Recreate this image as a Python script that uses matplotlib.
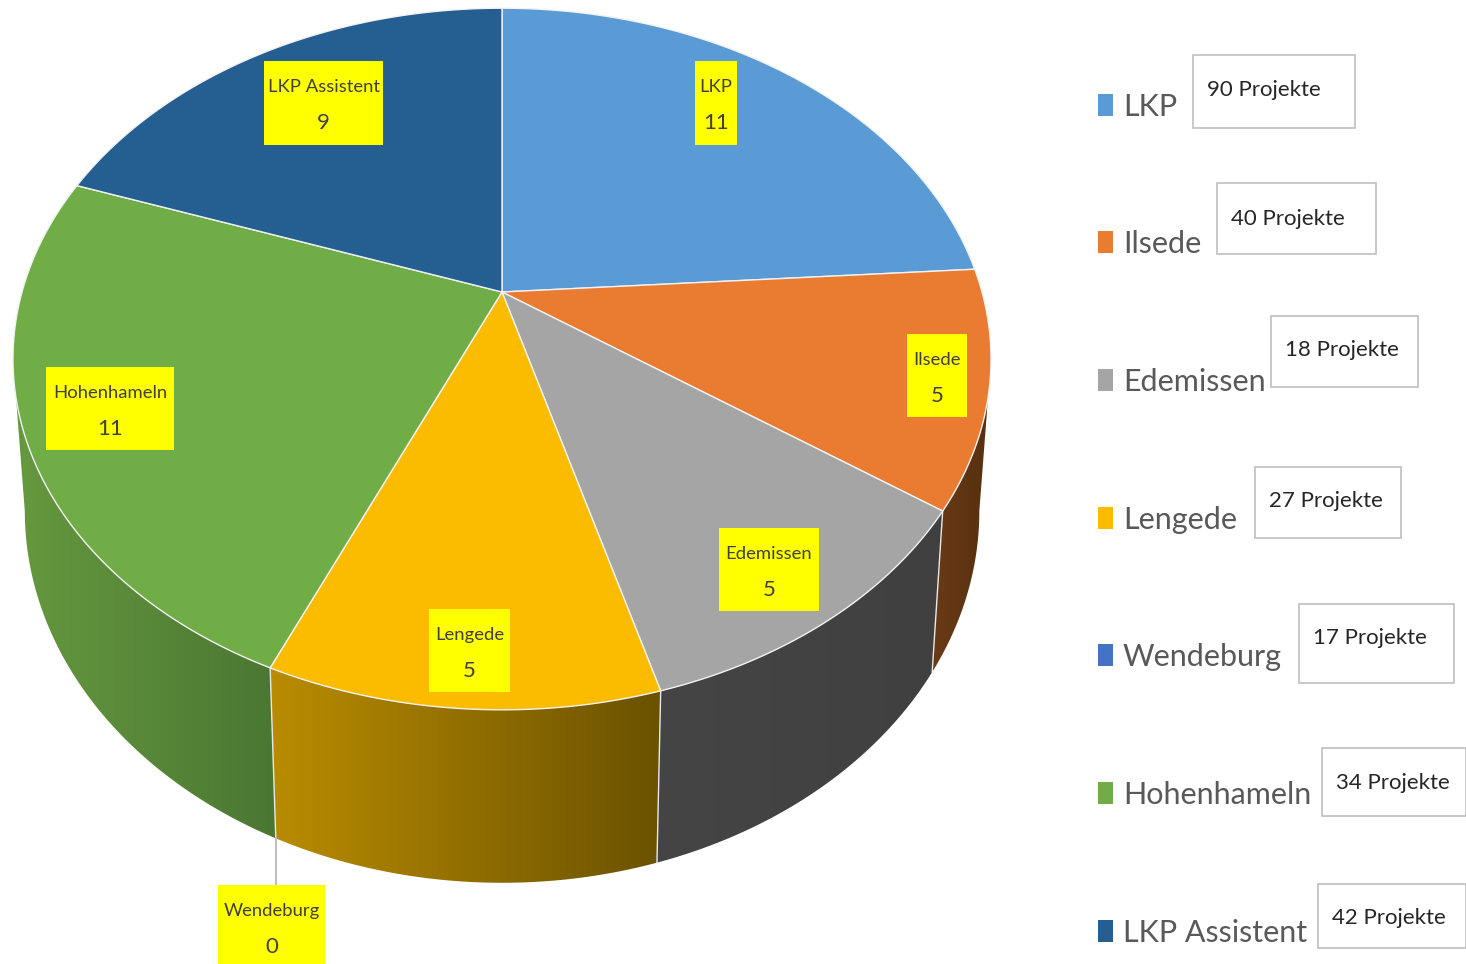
import numpy as np
import matplotlib
matplotlib.use('Agg')
import matplotlib.pyplot as plt
from matplotlib.patches import Polygon, Rectangle
from matplotlib.colors import LinearSegmentedColormap

plt.rcParams['font.family'] = ['Lato', 'Liberation Sans', 'DejaVu Sans']

# Daten
categories = ['LKP', 'Ilsede', 'Edemissen', 'Lengede', 'Wendeburg', 'Hohenhameln', 'LKP Assistent']
values = [11, 5, 5, 5, 0, 11, 9]
projects = [90, 40, 18, 27, 17, 34, 42]

colors = ['#5B9BD5', '#EA7C32', '#A5A5A5', '#FBBC00', '#4472C4', '#70AD47', '#255E91']
side_left = ['#5B9BD5', '#6A3A16', '#454545', '#B98C00', '#4472C4', '#66993F', '#255E91']
side_right = ['#5B9BD5', '#56300F', '#404040', '#6B5200', '#4472C4', '#4A7732', '#255E91']

# Position der Beschriftungen (Pixel)
label_boxes = [(695, 61, 737, 145), (907, 334, 967, 417), (719, 528, 819, 611), (429, 609, 510, 692),
               (218, 885, 325, 964), (46, 367, 174, 450), (264, 61, 383, 145)]
legend_y = [105, 242, 380, 518, 655, 793, 931]
note_boxes = [(1193, 55, 1355, 128), (1217, 183, 1376, 254), (1271, 316, 1418, 387), (1255, 467, 1401, 538),
              (1299, 604, 1454, 683), (1322, 748, 1466, 816), (1318, 884, 1466, 948)]
note_y = [90, 219, 350, 501, 638, 783, 918]

# Perspektive der Kreisscheibe
cx, cy = 502, 292
a, b, k = 480, 338, -0.191


def top_xy(theta):
    u, v = np.sin(theta), np.cos(theta)
    return cx + a*u/(1 - k*v), cy - b*v/(1 - k*v)


def bottom_xy(theta):
    x, y = top_xy(theta)
    return 505 + 0.976*(x - 505), 1.06*y + 130.4


fig = plt.figure(figsize=(14.66, 9.64), dpi=100)
ax = fig.add_axes([0, 0, 1, 1])

total = sum(values)
edges = np.concatenate([[0], np.cumsum(values)])/total*2*np.pi

# Seitenwand (nur sichtbarer Bereich, Verlauf als Bild)
for i in range(len(values)):
    if values[i] == 0:
        continue
    t0, t1 = edges[i], edges[i + 1]
    t0 = max(t0, np.radians(101))
    t1 = min(t1, np.radians(259))
    if t1 <= t0:
        continue
    t = np.linspace(t0, t1, 80)
    xt, yt = top_xy(t)
    xb, yb = bottom_xy(t)
    pts = np.column_stack([np.r_[xt, xb[::-1]], np.r_[yt, yb[::-1]]])
    poly = Polygon(pts, closed=True, facecolor='none', edgecolor='none')
    ax.add_patch(poly)
    cmap = LinearSegmentedColormap.from_list('side', [side_left[i], side_right[i]])
    im = ax.imshow(np.linspace(0, 1, 256).reshape(1, -1), cmap=cmap, aspect='auto',
                   extent=[pts[:, 0].min(), pts[:, 0].max(), pts[:, 1].max(), pts[:, 1].min()], zorder=1)
    im.set_clip_path(poly)
    # Kante zwischen den Segmenten
    if t1 == edges[i + 1]:
        xe, ye = top_xy(t1), bottom_xy(t1)
        ax.plot([xe[0], ye[0]], [xe[1], ye[1]], color='#E8E8E8', lw=1, zorder=2)

# Oberseite
for i in range(len(values)):
    if values[i] == 0:
        continue
    t = np.linspace(edges[i], edges[i + 1], 200)
    x, y = top_xy(t)
    ax.add_patch(Polygon(np.column_stack([np.r_[cx, x], np.r_[cy, y]]), closed=True,
                         facecolor=colors[i], edgecolor='#F2F2F2', lw=1, zorder=3))

# Linie zu Wendeburg
xw, yw = bottom_xy(edges[4])
ax.plot([xw, xw], [yw, label_boxes[4][1]], color='#BFBFBF', lw=1.5, zorder=2)

# Beschriftungen
for i in range(len(categories)):
    x0, y0, x1, y1 = label_boxes[i]
    ax.add_patch(Rectangle((x0, y0), x1 - x0, y1 - y0, facecolor='#FFFF00', edgecolor='none', zorder=4))
    xm = (x0 + x1)/2
    ax.text(xm, y0 + 26, categories[i], ha='center', va='center', fontsize=13.3, color='#404040', zorder=5)
    ax.text(xm, y0 + 62, str(values[i]), ha='center', va='center', fontsize=16, color='#404040', zorder=5)

# Legende
for i in range(len(categories)):
    ax.add_patch(Rectangle((1098, legend_y[i] - 11), 15, 22, facecolor=colors[i], edgecolor='none'))
    ax.text(1123, legend_y[i] + 2, categories[i], ha='left', va='center', fontsize=22, color='#595959')
    x0, y0, x1, y1 = note_boxes[i]
    ax.add_patch(Rectangle((x0, y0), x1 - x0, y1 - y0, facecolor='white', edgecolor='#BFBFBF', lw=1.2))
    ax.text(x0 + 14, note_y[i], str(projects[i]) + ' Projekte', ha='left', va='center',
            fontsize=16, color='#262626')

ax.set_xlim(0, 1466)
ax.set_ylim(964, 0)
ax.axis('off')

fig.savefig('out.png', dpi=100)
